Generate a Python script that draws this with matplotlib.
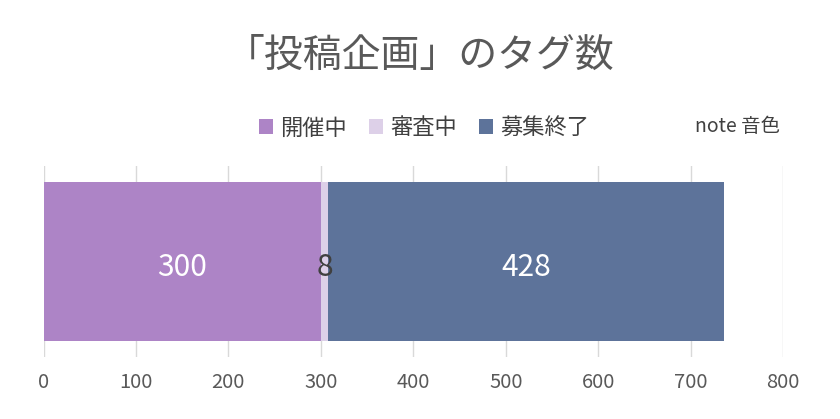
import matplotlib
matplotlib.use("Agg")
import matplotlib.pyplot as plt
from matplotlib.patches import Patch
from matplotlib.transforms import offset_copy

plt.rcParams['font.family'] = ['Noto Sans CJK JP', 'DejaVu Sans']

title = "「投稿企画」のタグ数"
categories = ["開催中", "審査中", "募集終了"]
values = [300, 8, 428]
colors = ["#AD84C6", "#DDD0E8", "#5D739A"]
label_colors = ["white", "#404040", "white"]
xticks = [0, 100, 200, 300, 400, 500, 600, 700, 800]
note = "note 音色"

fig = plt.figure(figsize=(8.4, 4.19), dpi=100)
ax = fig.add_axes([43.5/840, 1-357/419, (783-43.5)/840, (357-166)/419])

label_tr = offset_copy(ax.transData, fig=fig, x=0, y=-4, units='points')
left = 0
for v, c, lc in zip(values, colors, label_colors):
    ax.barh(0, v, left=left, height=1.0, color=c, zorder=2)
    ax.text(left + v/2, 0, str(v), ha='center', va='center',
            fontsize=21.5, color=lc, zorder=3, transform=label_tr)
    left += v

ax.set_xlim(0, 800)
ax.set_ylim(-0.6, 0.6)
ax.set_xticks(xticks)
ax.set_xticklabels([str(t) for t in xticks])
ax.set_yticks([])
ax.grid(axis='x', color='#D9D9D9', linewidth=1, zorder=0)
for s in ax.spines.values():
    s.set_visible(False)
ax.tick_params(axis='x', length=0, labelsize=14.5, labelcolor='#595959', pad=11)

fig.text(0.5, 1-56/419, title, ha='center', va='center', fontsize=28, color='#595959')

handles = [Patch(facecolor=c, edgecolor='none') for c in colors]
fig.legend(handles, categories, loc='center', bbox_to_anchor=(424/840, 1-128/419),
           ncol=3, frameon=False, fontsize=16, handlelength=0.65, handleheight=0.65,
           handletextpad=0.3, columnspacing=1.0, labelcolor='#404040')

fig.text(780/840, 1-127/419, note, ha='right', va='center', fontsize=14, color='#404040')

fig.savefig("out.png", dpi=100, facecolor='white')
